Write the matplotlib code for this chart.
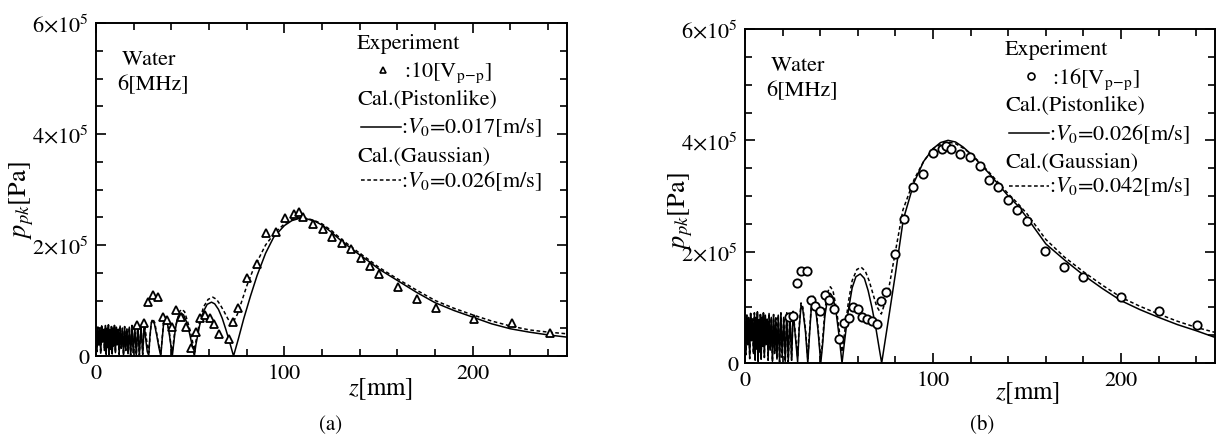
import matplotlib
matplotlib.use("Agg")
import matplotlib.pyplot as plt
from matplotlib.ticker import FixedLocator, MultipleLocator
from matplotlib.lines import Line2D

plt.rcParams['font.family'] = 'STIXGeneral'
plt.rcParams['mathtext.fontset'] = 'stix'

# ---- data (pressure in kPa) ----
# dense near-field oscillation, 0-25 mm (shared z grid)
near_z = [0.0, 0.5, 1.0, 1.5, 2.0, 2.5, 3.0, 3.5, 4.0, 4.5,
          5.0, 5.4, 5.8, 6.2, 6.6, 7.0, 7.4, 7.8, 8.2, 8.6, 9.0, 9.4, 9.8,
          10.3, 10.8, 11.3, 11.8, 12.3, 12.8,
          13.4, 14.0, 14.6, 15.2, 15.8, 16.4, 17.0,
          17.7, 18.4, 19.1, 19.8, 20.6, 21.4, 22.2, 23.0, 23.9, 24.8]
left_near_p = [45, 8, 52, 20, 50, 5, 54, 25, 48, 10, 55, 3, 50, 15, 56, 2, 47, 12, 53, 4, 50, 18, 55,
               6, 52, 20, 48, 3, 54, 14, 50, 2, 53, 10, 49, 4, 52, 1, 55, 6, 50, 2, 55, 1, 54, 3]
right_near_p = [74, 15, 86, 33, 82, 8, 89, 40, 79, 17, 90, 5, 82, 25, 92, 3, 78, 20, 87, 7, 82, 30, 90,
                10, 86, 33, 79, 5, 89, 23, 82, 3, 87, 17, 81, 7, 86, 2, 90, 10, 82, 3, 90, 2, 89, 5]

# (a) 10 Vp-p
a_exp_z = [22.0, 25.5, 27.5, 30.0, 32.8, 35.3, 37.8, 40.3, 42.6, 45.0, 48.0, 50.3, 52.9, 55.3, 57.8,
           60.3, 62.8, 65.4, 70.4, 72.7, 75.4, 80.1, 85.5, 90.2, 95.6, 100.2, 105.3, 107.6, 109.9,
           115.0, 120.4, 125.5, 130.7, 135.5, 140.4, 145.4, 150.4, 160.5, 170.6, 180.5, 200.7, 220.9, 241.0]
a_exp_p = [56, 59, 97, 110, 106, 70, 64, 53, 83, 70, 52, 14, 44, 68, 73,
           68, 57, 39, 31, 62, 86, 140, 165, 221, 223, 249, 255, 259, 251,
           237, 229, 215, 204, 192, 177, 163, 148, 124, 102, 87, 67, 59, 41]

a_pis_z = [25.6, 26.4, 27.2, 28.0, 28.6, 29.3, 30.0, 31.0, 32.2, 33.4, 34.4, 35.0, 35.8, 36.7, 37.7,
           38.8, 39.8, 40.5, 41.0, 42.0, 43.0, 44.3, 45.3, 46.5, 48.0, 49.5, 51.0, 52.2, 53.0, 55.0,
           57.0, 59.0, 61.3, 63.0, 65.0, 67.0, 69.0, 71.0, 73.0, 75.5, 78.4, 82.0, 85.5, 90.0, 94.3,
           100, 104, 108, 112, 116, 120, 125, 130, 135, 140, 145, 150, 160, 170, 180, 190, 200,
           210, 220, 230, 240, 250]
a_pis_p = [58, 30, 8, 1, 35, 58, 64, 58, 38, 15, 0, 25, 55, 67, 62,
           42, 18, 0, 15, 45, 65, 75, 77, 74, 62, 43, 20, 0, 20, 55,
           80, 93, 97, 94, 84, 68, 47, 24, 0, 30, 67, 108, 145, 185, 214,
           235, 244, 248, 247, 243, 236, 223, 208, 195, 182, 170, 157, 136, 115, 96, 82, 70,
           58, 49, 43, 38, 34]

a_gau_z = [25.7, 27.0, 28.0, 29.3, 30.1, 31.2, 33.3, 34.4, 35.8, 36.8, 38.8, 40.4, 42.0, 44.3,
           45.5, 47.0, 49.5, 51.0, 52.2, 53.5, 55.0, 57.0, 59.5, 62.0, 64.0, 66.0, 68.0, 70.0,
           72.2, 75.0, 77.5, 80.1, 83.0, 86.3, 90.0, 95.2, 100, 104, 108, 112, 116, 120, 125,
           130, 135, 140, 145, 150, 160, 170, 180, 190, 200, 210, 220, 230, 240, 250]
a_gau_p = [60, 25, 6, 60, 67, 60, 20, 4, 58, 70, 46, 4, 50, 80,
           84, 80, 52, 30, 10, 35, 62, 88, 102, 106, 102, 92, 80, 67,
           57, 75, 100, 127, 152, 175, 200, 223, 238, 246, 249, 248, 244, 238, 226,
           211, 198, 185, 173, 160, 139, 119, 100, 86, 74, 63, 54, 47, 43, 40]

# (b) 16 Vp-p
b_exp_z = [23.4, 25.5, 27.7, 29.8, 32.8, 35.0, 37.4, 39.9, 42.4, 44.9, 47.5, 50.0, 52.7, 55.2, 57.6,
           60.0, 62.4, 64.9, 67.4, 70.1, 72.3, 74.8, 79.8, 84.5, 89.5, 94.8, 100.2, 104.6, 106.9,
           109.4, 114.6, 119.6, 125.0, 130.0, 134.7, 139.7, 144.8, 150.0, 159.6, 169.9, 179.6,
           199.8, 220.0, 240.3]
b_exp_p = [83, 84, 143, 165, 166, 113, 103, 94, 123, 113, 97, 43, 71, 81, 100,
           97, 83, 79, 76, 70, 111, 127, 196, 258, 316, 340, 378, 384, 390,
           384, 375, 370, 353, 329, 316, 292, 275, 255, 202, 172, 154,
           118, 93, 68]

b_pis_z = [25.6, 27.0, 28.0, 28.8, 29.8, 30.8, 32.2, 33.4, 34.3, 35.3, 36.3, 37.5, 38.8, 40.3,
           41.2, 42.5, 44.0, 45.4, 46.8, 48.5, 50.0, 51.6, 53.0, 55.0, 57.0, 59.0, 61.3, 63.5,
           65.5, 67.5, 69.5, 71.3, 72.7, 76.6, 80.0, 84.2, 90, 95, 100, 104, 108, 112, 116,
           120, 125, 130, 135, 140, 145, 150, 160, 170, 180, 190, 200, 210, 220, 230, 240, 250]
b_pis_p = [91, 40, 2, 60, 104, 95, 55, 0, 50, 100, 115, 100, 60, 0,
           30, 85, 117, 125, 118, 90, 50, 0, 40, 95, 135, 155, 160, 152,
           130, 100, 65, 28, 0, 85, 160, 258, 325, 362, 385, 396, 400, 397, 388,
           376, 358, 340, 320, 300, 283, 261, 214, 185, 158, 134, 112, 96, 82, 69, 58, 46]

b_gau_z = [25.6, 27.0, 28.0, 28.8, 29.8, 30.8, 32.2, 33.4, 34.3, 35.3, 36.3, 37.5, 38.8, 40.3,
           41.2, 42.5, 44.0, 45.4, 46.8, 48.5, 50.0, 51.6, 53.0, 55.0, 57.0, 59.5, 61.8, 64.0,
           66.0, 68.0, 70.0, 72.5, 76.0, 80.0, 84.0, 90, 95, 100, 105, 108, 112, 116,
           120, 125, 130, 135, 140, 145, 150, 160, 170, 180, 190, 200, 210, 220, 230, 240, 250]
b_gau_p = [93, 45, 10, 65, 108, 100, 60, 8, 55, 105, 120, 105, 65, 8,
           38, 95, 128, 137, 130, 100, 62, 20, 55, 110, 148, 168, 172, 165,
           148, 125, 102, 88, 125, 200, 275, 330, 362, 385, 395, 397, 394, 386,
           376, 360, 342, 323, 304, 287, 268, 222, 190, 164, 140, 118, 102, 88, 75, 64, 55]

x_major = [0, 100, 200]
x_labels = ['0', '100', '200']
y_major = [0, 2e5, 4e5, 6e5]
y_labels = ['0', r'$2{\times}10^5$', r'$4{\times}10^5$', r'$6{\times}10^5$']

W, H = 1220, 439
fig = plt.figure(figsize=(W / 100, H / 100), dpi=100)
FS = 16
LW = 1.1
DASH = (2.4, 1.7)


def fx(x):
    return x / W


def fy(y):
    return 1 - y / H


def setup(ax):
    ax.set_xlim(0, 250)
    ax.set_ylim(0, 6e5)
    ax.xaxis.set_major_locator(FixedLocator(x_major))
    ax.set_xticklabels(x_labels)
    ax.xaxis.set_minor_locator(MultipleLocator(20))
    ax.yaxis.set_major_locator(FixedLocator(y_major))
    ax.set_yticklabels(y_labels)
    ax.yaxis.set_minor_locator(MultipleLocator(0.5e5))
    ax.tick_params(which='both', direction='in', top=True, right=True, labelsize=16, width=1.2)
    ax.tick_params(which='major', length=7, pad=5)
    ax.tick_params(which='minor', length=5)
    for s in ax.spines.values():
        s.set_linewidth(1.4)


def kpa(v):
    return [p * 1000 for p in v]


panels = [
    dict(box=(96, 24, 567, 357), exp=(a_exp_z, a_exp_p), marker='^', ms=5.2,
         near=left_near_p, pis=(a_pis_z, a_pis_p), gau=(a_gau_z, a_gau_p),
         volt=':10[V$_{\\mathrm{p\\!-\\!p}}$]', v_pis='0.017', v_gau='0.026',
         leg=357, ylab=(22, 200), xlab=(381, 389), cap=(331, 425), name='(a)'),
    dict(box=(745, 30, 1215, 364), exp=(b_exp_z, b_exp_p), marker='o', ms=6.0,
         near=right_near_p, pis=(b_pis_z, b_pis_p), gau=(b_gau_z, b_gau_p),
         volt=':16[V$_{\\mathrm{p\\!-\\!p}}$]', v_pis='0.026', v_gau='0.042',
         leg=1005, ylab=(681, 211), xlab=(1028, 393), cap=(982, 425), name='(b)'),
]

for P in panels:
    x0, y0, x1, y1 = P['box']
    ax = fig.add_axes([fx(x0), fy(y1), (x1 - x0) / W, (y1 - y0) / H])
    setup(ax)
    pz, pp = P['pis']
    gz, gp = P['gau']
    ax.plot(near_z + pz, kpa(P['near'] + pp), color='black', lw=LW)
    ax.plot(near_z + gz, kpa(P['near'] + gp), color='black', lw=LW, dashes=DASH)
    ez, ep = P['exp']
    ax.plot(ez, kpa(ep), ls='none', marker=P['marker'], ms=P['ms'], mfc='white',
            mec='black', mew=1.3)

    fig.text(fx(x0 + 26), fy(y0 + 36), 'Water', fontsize=FS, va='center')
    fig.text(fx(x0 + 21), fy(y0 + 61), '6[MHz]', fontsize=FS, va='center')

    gx = P['leg']
    fig.text(fx(gx), fy(y0 + 20), 'Experiment', fontsize=FS, va='center')
    fig.add_artist(Line2D([fx(gx + 26)], [fy(y0 + 47)], marker=P['marker'], ms=P['ms'] - 1,
                          mfc='white', mec='black', mew=1.2, ls='none'))
    fig.text(fx(gx + 47), fy(y0 + 49), P['volt'], fontsize=FS, va='center')
    fig.text(fx(gx), fy(y0 + 75), 'Cal.(Pistonlike)', fontsize=FS, va='center')
    fig.add_artist(Line2D([fx(gx + 4), fx(gx + 44)], [fy(y0 + 104)] * 2, color='black', lw=LW))
    fig.text(fx(gx + 44), fy(y0 + 104), ':$V_{\\mathit{0}}$=' + P['v_pis'] + '[m/s]',
             fontsize=FS, va='center')
    fig.text(fx(gx), fy(y0 + 132), 'Cal.(Gaussian)', fontsize=FS, va='center')
    fig.add_artist(Line2D([fx(gx + 4), fx(gx + 44)], [fy(y0 + 157)] * 2, color='black', lw=LW,
                          dashes=DASH))
    fig.text(fx(gx + 44), fy(y0 + 157), ':$V_{\\mathit{0}}$=' + P['v_gau'] + '[m/s]',
             fontsize=FS, va='center')

    fig.text(fx(P['ylab'][0]), fy(P['ylab'][1]), '$p_{pk}$[Pa]', fontsize=19,
             rotation=90, ha='center', va='center')
    fig.text(fx(P['xlab'][0]), fy(P['xlab'][1]), '$z$[mm]', fontsize=18, ha='center', va='center')
    fig.text(fx(P['cap'][0]), fy(P['cap'][1]), P['name'], fontsize=15, ha='center', va='center')

fig.savefig('out.png', dpi=100)
